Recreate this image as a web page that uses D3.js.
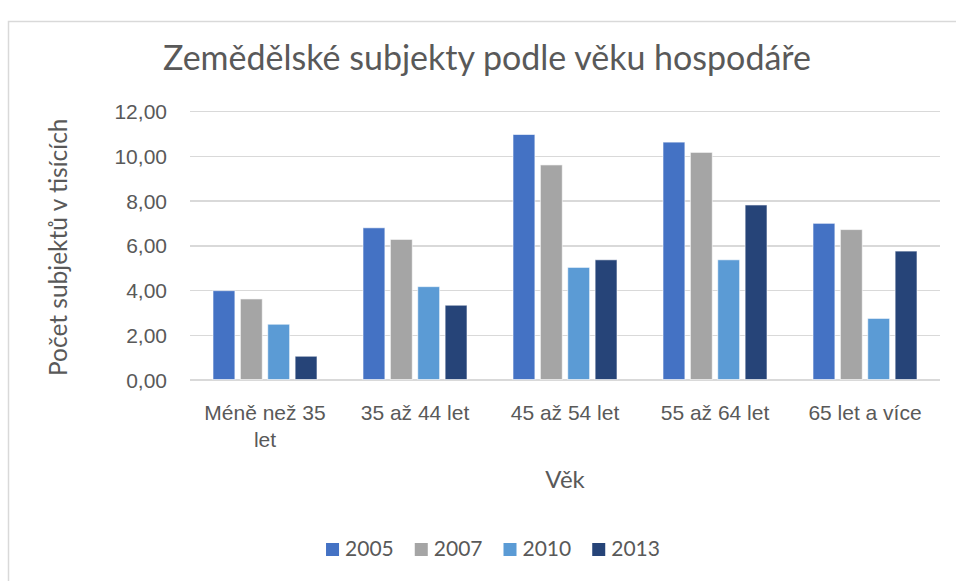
<!DOCTYPE html>
<html lang="cs">

<head>
    <meta charset="UTF-8">
    <title>Zemědělské subjekty podle věku hospodáře</title>
    <style>
        body {
            margin: 0;
            background: #fff;
        }

        svg {
            display: block;
            font-family: Lato, "Open Sans", sans-serif;
        }

        .grid line {
            stroke: #d9d9d9;
            stroke-width: 1.5;
            shape-rendering: crispEdges;
        }

        .grid path {
            display: none;
        }

        .axis path,
        .axis line {
            display: none;
        }

        .axis text,
        .legend text {
            fill: #595959;
            font-size: 21px;
        }
    </style>
</head>

<body>
    <svg class="chart"></svg>
    <script src="https://d3js.org/d3.v7.min.js"></script>
    <script>
        // data
        const categories = ["Méně než 35 let", "35 až 44 let", "45 až 54 let", "55 až 64 let", "65 let a více"];
        const years = ["2005", "2007", "2010", "2013"];
        const v2005 = [3.97, 6.78, 10.95, 10.61, 6.98];
        const v2007 = [3.60, 6.26, 9.59, 10.15, 6.70];
        const v2010 = [2.47, 4.15, 5.01, 5.35, 2.73];
        const v2013 = [1.04, 3.32, 5.35, 7.80, 5.74];
        const yTicks = [0, 2, 4, 6, 8, 10, 12];
        const colors = ["#4472c4", "#a5a5a5", "#5b9bd5", "#264478"];

        const series = [v2005, v2007, v2010, v2013];
        const data = categories.map((c, i) => ({
            cat: c,
            vals: years.map((yr, j) => ({ year: yr, value: series[j][i] }))
        }));

        let width = 956, height = 581;
        let plot = { left: 190, right: 940, top: 111, bottom: 379.5 };

        let svg = d3.select(".chart")
            .attr("width", width)
            .attr("height", height);

        // chart frame
        svg.append("rect")
            .attr("x", 8.5)
            .attr("y", 21.5)
            .attr("width", 1000)
            .attr("height", 700)
            .attr("fill", "#fff")
            .attr("stroke", "#d9d9d9")
            .attr("stroke-width", 1.5);

        let x0 = d3.scaleBand()
            .domain(categories)
            .range([plot.left, plot.right])
            .padding(0);

        let x1 = d3.scaleBand()
            .domain(years)
            .range([23, x0.bandwidth() - 23])
            .paddingInner(0.2);

        let y = d3.scaleLinear()
            .domain([0, 12])
            .range([plot.bottom, plot.top]);

        let fmt = d => d3.format(".2f")(d).replace(".", ",");

        // gridlines
        svg.append("g")
            .attr("class", "grid")
            .attr("transform", `translate(${plot.left},0)`)
            .call(d3.axisLeft(y).tickValues(yTicks).tickSize(-(plot.right - plot.left)).tickFormat(""));

        // y axis labels
        svg.append("g")
            .attr("class", "axis axis--y")
            .attr("transform", `translate(${plot.left - 23},0)`)
            .call(d3.axisLeft(y).tickValues(yTicks).tickSize(0).tickPadding(0).tickFormat(fmt))
            .selectAll("text")
            .attr("dy", "0.36em");

        // bars
        let group = svg.selectAll(".grp")
            .data(data)
            .enter().append("g")
            .attr("class", "grp")
            .attr("transform", d => `translate(${x0(d.cat)},0)`);

        group.selectAll("rect")
            .data(d => d.vals)
            .enter().append("rect")
            .attr("x", d => x1(d.year))
            .attr("y", d => y(d.value))
            .attr("width", x1.bandwidth())
            .attr("height", d => y(0) - y(d.value))
            .attr("fill", (d, i) => colors[i])
            .attr("stroke", "#fff")
            .attr("stroke-opacity", 0.6)
            .attr("stroke-width", 1);

        // x axis labels
        let xAxisG = svg.append("g")
            .attr("class", "axis axis--x")
            .attr("transform", `translate(0,${plot.bottom})`)
            .call(d3.axisBottom(x0).tickSize(0).tickPadding(0));

        xAxisG.selectAll("text")
            .attr("y", 40)
            .attr("dy", 0)
            .call(wrap, 140);

        function wrap(text, w) {
            text.each(function () {
                let t = d3.select(this),
                    words = t.text().split(/\s+/),
                    line = [],
                    lineNo = 0,
                    ty = t.attr("y"),
                    tspan = t.text(null).append("tspan").attr("x", 0).attr("y", ty);
                words.forEach(word => {
                    line.push(word);
                    tspan.text(line.join(" "));
                    if (tspan.node().getComputedTextLength() > w && line.length > 1) {
                        line.pop();
                        tspan.text(line.join(" "));
                        line = [word];
                        lineNo++;
                        tspan = t.append("tspan").attr("x", 0).attr("y", +ty + lineNo * 27).text(word);
                    }
                });
            });
        }

        // axis titles
        svg.append("text")
            .attr("transform", `translate(67,${(plot.top + plot.bottom) / 2 + 2}) rotate(-90)`)
            .attr("text-anchor", "middle")
            .attr("fill", "#595959")
            .style("font-size", "24.5px")
            .text("Počet subjektů v tisících");

        svg.append("text")
            .attr("x", (plot.left + plot.right) / 2)
            .attr("y", 488)
            .attr("text-anchor", "middle")
            .attr("fill", "#595959")
            .style("font-size", "24px")
            .text("Věk");

        // title
        svg.append("text")
            .attr("x", 487)
            .attr("y", 70)
            .attr("text-anchor", "middle")
            .attr("fill", "#595959")
            .style("font-size", "34px")
            .text("Zemědělské subjekty podle věku hospodáře");

        // legend
        let legend = svg.append("g").attr("class", "legend");
        let items = legend.selectAll("g")
            .data(years)
            .enter().append("g");
        items.append("rect")
            .attr("width", 13)
            .attr("height", 13)
            .attr("y", -13)
            .attr("fill", (d, i) => colors[i]);
        items.append("text")
            .attr("x", 19)
            .attr("y", 0)
            .text(d => d);
        let pos = 0, offs = [];
        items.each(function () {
            offs.push(pos);
            pos += 19 + this.querySelector("text").getComputedTextLength() + 21;
        });
        let total = pos - 21;
        items.attr("transform", (d, i) => `translate(${493 - total / 2 + offs[i]},556)`);
    </script>
</body>

</html>
